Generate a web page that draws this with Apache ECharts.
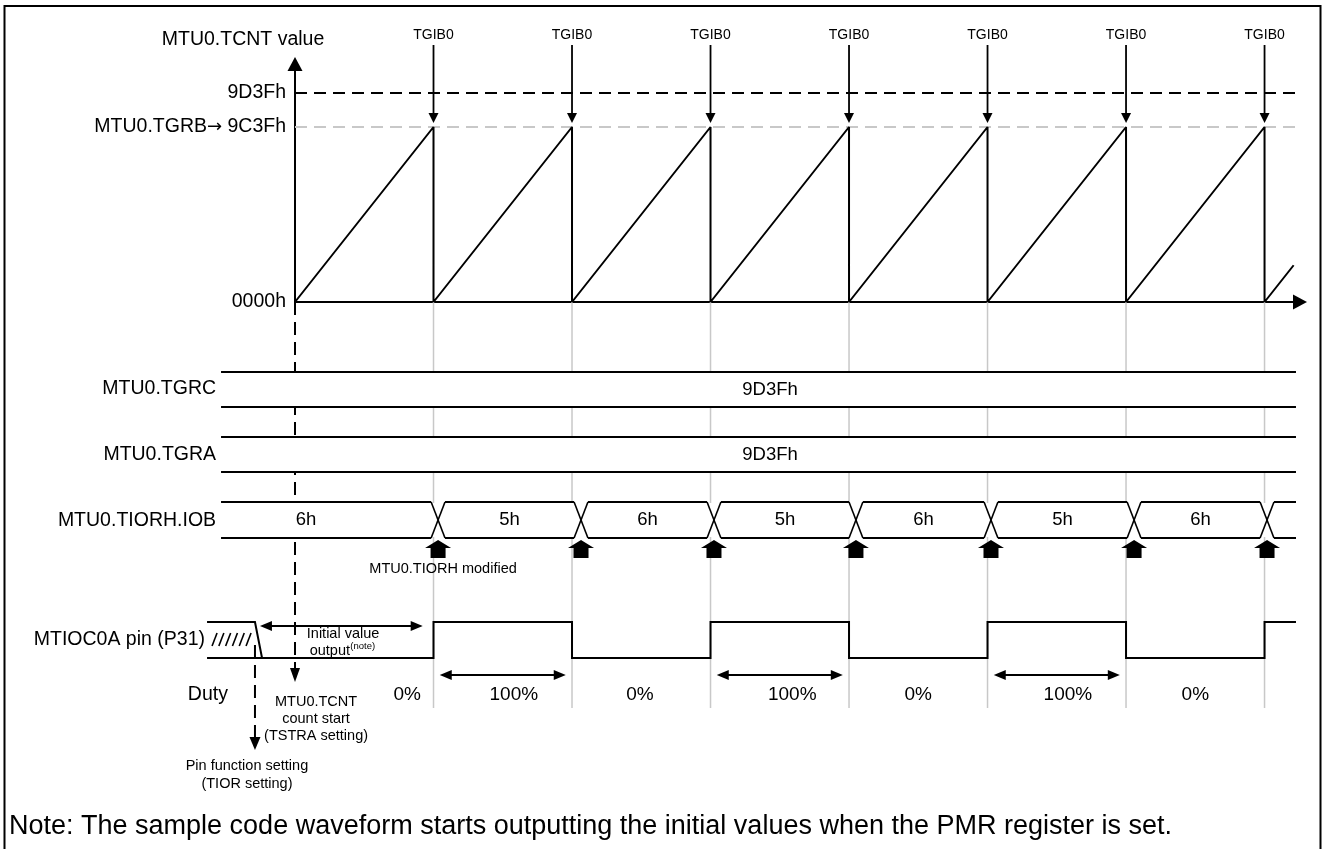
<!DOCTYPE html>
<html><head><meta charset="utf-8">
<script src="https://cdn.jsdelivr.net/npm/echarts@6/dist/echarts.min.js"></script>
<style>html,body{margin:0;padding:0;background:#fff}#c{width:1326px;height:849px}</style>
</head><body><div id="c"></div>
<script>
// ---------------- data ----------------
// time unit = one TCNT counting period (TCNT 0000h -> TGRB)
const compareMatchTimes = [1, 2, 3, 4, 5, 6, 7];             // TGIB0 events
const tcntRamp = [[0,0],[1,1],[1,0],[2,1],[2,0],[3,1],[3,0],[4,1],[4,0],
                  [5,1],[5,0],[6,1],[6,0],[7,1],[7,0],[7.21,0.21]]; // TCNT, as fraction of TGRB
const levelValues = [0, 1, 1.194];                              // schematic levels of the y axis
const levelLabels = ['0000h', 'MTU0.TGRB{a|\u2192} 9C3Fh', '9D3Fh'];
const rowNames = ['MTU0.TGRC', 'MTU0.TGRA', 'MTU0.TIORH.IOB', 'MTIOC0A pin (P31)', 'Duty'];
const registerValues = ['9D3Fh', '9D3Fh'];                      // TGRC, TGRA
const iobValues = ['6h', '5h', '6h', '5h', '6h', '5h', '6h'];
const iobSwitchTimes = [1.033, 2.065, 3.025, 4.05, 5.025, 6.058, 7.018];
const pinLevels = [0, 1, 0, 1, 0, 1, 0, 1];                     // per period starting at 0,1,...,7
const dutyLabels = ['0%', '100%', '0%', '100%', '0%', '100%', '0%'];
const dutyLabelTimes = [0.81, 1.58, 2.49, 3.59, 4.5, 5.58, 6.5];
const eventLabel = 'TGIB0';
const noteText = 'Note: The sample code waveform starts outputting the initial values when the PMR register is set.';

// ---------------- layout ----------------
const FONT = '"Liberation Sans", Arial, Helvetica, sans-serif';
const X_MAX = 7.256;
const ROW_START = -0.534, ROW_END = 7.227, PIN_START = -0.635, RAMP_LINE_END = 7.242;
const L = { tgrc:[70,105], tgra:[135,170], iob:[200,236], arrowTop:238, modified:267,
            pinHigh:320, pinLow:356, initArrow:324, dutyArrow:373, dutyText:393, guideEnd:406 };
const GREY = '#c8c8c8';

function ln(a, b, o) { return {type:'line', shape:{x1:a[0],y1:a[1],x2:b[0],y2:b[1]},
  style:Object.assign({stroke:'#000', lineWidth:2, fill:'none'}, o||{})}; }
function pl(pts, o) { return {type:'polyline', shape:{points:pts},
  style:Object.assign({stroke:'#000', lineWidth:2, fill:'none'}, o||{})}; }
function pg(pts, fill) { return {type:'polygon', shape:{points:pts}, style:{fill:fill||'#000', stroke:'none'}}; }
function tx(p, s, size, align, o) { return {type:'text', style:Object.assign({text:s, x:p[0], y:p[1],
  align:align||'center', verticalAlign:'middle', fontSize:size, fontFamily:FONT, fill:'#000'}, o||{})}; }
function hArrowHeads(p1, p2) { // horizontal double arrow
  return [ln([p1[0]+6,p1[1]],[p2[0]-6,p2[1]],{lineWidth:1.8}),
    pg([[p1[0],p1[1]],[p1[0]+12,p1[1]-5],[p1[0]+12,p1[1]+5]]),
    pg([[p2[0],p2[1]],[p2[0]-12,p2[1]-5],[p2[0]-12,p2[1]+5]])];
}
function downArrow(p, w, h) { return pg([[p[0],p[1]],[p[0]-w/2,p[1]-h],[p[0]+w/2,p[1]-h]]); }

const chart = echarts.init(document.getElementById('c'));

const option = {
  animation: false,
  title: { text: noteText, left: 9, top: 813, padding: 0,
    textStyle: { fontSize: 27, fontWeight: 'normal', color: '#000', fontFamily: FONT } },
  graphic: [{ type:'rect', silent:true, shape:{x:4.5, y:6, width:1316, height:900},
    style:{fill:'none', stroke:'#000', lineWidth:2} }],
  grid: [
    { left: 295, right: 26, top: 64, height: 238 },
    { left: 295, right: 26, top: 302, height: 547 }
  ],
  xAxis: [
    { gridIndex:0, type:'value', min:0, max:X_MAX,
      axisLine:{show:true, symbol:['none','triangle'], symbolSize:[15,14], lineStyle:{color:'#000', width:2}},
      axisTick:{show:false}, axisLabel:{show:false}, splitLine:{show:false} },
    { gridIndex:1, type:'value', min:0, max:X_MAX, show:false }
  ],
  yAxis: [
    { gridIndex:0, type:'value', min:0, max:1.36,
      axisLine:{show:true, symbol:['none','triangle'], symbolSize:[15,14], lineStyle:{color:'#000', width:2}},
      axisTick:{show:false}, splitLine:{show:false},
      axisLabel:{ customValues: levelValues, margin: 9, color:'#000', fontSize: 19.5, fontFamily: FONT,
        rich: { a: { fontFamily: '"DejaVu Sans", sans-serif', fontSize: 18, color:'#000' } },
        formatter: v => { let bi = 0; levelValues.forEach((lv,i) => { if (Math.abs(lv-v) < Math.abs(levelValues[bi]-v)) bi = i; }); return levelLabels[bi]; } },
      name: 'MTU0.TCNT value', nameLocation: 'end', nameGap: 14,
      nameTextStyle: { color:'#000', fontSize: 19.5, fontFamily: FONT, align:'center', padding:[0,104,0,0] } },
    { gridIndex:1, type:'value', min:0, max:547, inverse:true, show:false }
  ],
  series: [
    // reference levels
    { type:'line', xAxisIndex:0, yAxisIndex:0, z:2, symbol:'none', silent:true,
      data:[[0, levelValues[1]], [RAMP_LINE_END, levelValues[1]]],
      lineStyle:{color:GREY, width:2, type:[12,7]} },
    { type:'line', xAxisIndex:0, yAxisIndex:0, z:2, symbol:'none', silent:true,
      data:[[0, levelValues[2]], [RAMP_LINE_END, levelValues[2]]],
      lineStyle:{color:'#000', width:2, type:[12,7]} },
    // TCNT sawtooth
    { type:'line', xAxisIndex:0, yAxisIndex:0, z:5, symbol:'none', silent:true,
      data: tcntRamp, lineStyle:{color:'#000', width:2} },
    // TGIB0 interrupt arrows
    { type:'custom', xAxisIndex:0, yAxisIndex:0, z:6, clip:false, silent:true,
      data: compareMatchTimes.map(t => [t, levelValues[1]]),
      renderItem: (params, api) => {
        const p = api.coord([api.value(0), api.value(1)]);
        return {type:'group', children:[
          ln([p[0], p[1]-82], [p[0], p[1]-14], {lineWidth:1.8}),
          pg([[p[0]-5, p[1]-14], [p[0]+5, p[1]-14], [p[0], p[1]-4]]),
          tx([p[0], p[1]-92], eventLabel, 14)
        ]};
      } },
    // grey guide lines (lower part)
    { type:'custom', xAxisIndex:1, yAxisIndex:1, z:1, clip:false, silent:true,
      data: compareMatchTimes.map(t => [t]),
      renderItem: (params, api) => {
        const t = api.value(0);
        return ln(api.coord([t, 0]), api.coord([t, L.guideEnd]), {stroke:GREY, lineWidth:1.5});
      } },
    // dashed setting markers
    { type:'custom', xAxisIndex:1, yAxisIndex:1, z:2, clip:false, silent:true, data:[[0]],
      renderItem: (params, api) => {
        const c = (t, y) => api.coord([t, y]);
        const a = c(0, 380), b = c(-0.289, 448);
        return {type:'group', children:[
          ln(c(0, 0), c(0, 366), {lineDash:[13,7]}),
          downArrow(a, 10, 14),
          ln(c(-0.289, 343), c(-0.289, 436), {lineDash:[13,7]}),
          downArrow(b, 11, 13)
        ]};
      } },
    // white box fills
    { type:'custom', xAxisIndex:1, yAxisIndex:1, z:3, clip:false, silent:true, data:[[0]],
      renderItem: (params, api) => {
        const c = (t, y) => api.coord([t, y]);
        const kids = [L.tgrc, L.tgra, L.iob].map(r => {
          const p1 = c(ROW_START, r[0]), p2 = c(ROW_END, r[1]);
          return {type:'rect', shape:{x:p1[0], y:p1[1]+1, width:p2[0]-p1[0], height:p2[1]-p1[1]-2}, style:{fill:'#fff'}};
        });
        return {type:'group', children:kids};
      } },
    // register rows and labels
    { type:'custom', xAxisIndex:1, yAxisIndex:1, z:4, clip:false, silent:true, data:[[0]],
      renderItem: (params, api) => {
        const c = (t, y) => api.coord([t, y]);
        const kids = [];
        [L.tgrc, L.tgra].forEach((r, i) => {
          kids.push(ln(c(ROW_START, r[0]), c(ROW_END, r[0])));
          kids.push(ln(c(ROW_START, r[1]), c(ROW_END, r[1])));
          kids.push(tx(c(3.43, (r[0]+r[1])/2), registerValues[i], 18.5));
        });
        // TIORH.IOB bus
        const h = 0.05, top = L.iob[0], bot = L.iob[1];
        const edges = [ROW_START].concat(iobSwitchTimes, [ROW_END]);
        for (let i = 0; i < edges.length-1; i++) {
          const a = edges[i] + (i > 0 ? h : 0);
          const b = edges[i+1] - (i+1 < edges.length-1 ? h : 0);
          kids.push(ln(c(a, top), c(b, top)));
          kids.push(ln(c(a, bot), c(b, bot)));
        }
        iobSwitchTimes.forEach(s => {
          kids.push(ln(c(s-h, top), c(s+h, bot), {lineWidth:1.6}));
          kids.push(ln(c(s-h, bot), c(s+h, top), {lineWidth:1.6}));
          const p = c(s, L.arrowTop);
          kids.push(pg([[p[0], p[1]], [p[0]+13, p[1]+8], [p[0]+7.5, p[1]+8], [p[0]+7.5, p[1]+18],
                        [p[0]-7.5, p[1]+18], [p[0]-7.5, p[1]+8], [p[0]-13, p[1]+8]]));
        });
        iobValues.forEach((v, i) => {
          const t = i === 0 ? 0.079 : (iobSwitchTimes[i-1] + iobSwitchTimes[i]) / 2;
          kids.push(tx(c(t, (top+bot)/2), v, 18.5));
        });
        kids.push(tx(c(1.069, L.modified), 'MTU0.TIORH modified', 14.5));
        // row names
        kids.push(tx(c(-0.570, (L.tgrc[0]+L.tgrc[1])/2 - 1), rowNames[0], 19.5, 'right'));
        kids.push(tx(c(-0.570, (L.tgra[0]+L.tgra[1])/2), rowNames[1], 19.5, 'right'));
        kids.push(tx(c(-0.570, (L.iob[0]+L.iob[1])/2 + 1), rowNames[2], 19.5, 'right'));
        kids.push(tx(c(-0.650, (L.pinHigh+L.pinLow)/2), rowNames[3], 19.5, 'right'));
        kids.push(tx(c(-0.484, L.dutyText), rowNames[4], 19.5, 'right'));
        return {type:'group', children:kids};
      } },
    // MTIOC0A pin waveform and duty
    { type:'custom', xAxisIndex:1, yAxisIndex:1, z:5, clip:false, silent:true, data:[[0]],
      renderItem: (params, api) => {
        const c = (t, y) => api.coord([t, y]);
        const yPin = lv => lv ? L.pinHigh : L.pinLow;
        const kids = [];
        const pts = [c(PIN_START, yPin(pinLevels[0]))];
        for (let k = 1; k < pinLevels.length; k++) {
          const t = compareMatchTimes[k-1];
          if (pinLevels[k] !== pinLevels[k-1]) { pts.push(c(t, yPin(pinLevels[k-1]))); pts.push(c(t, yPin(pinLevels[k]))); }
        }
        pts.push(c(ROW_END, yPin(pinLevels[pinLevels.length-1])));
        kids.push(pl(pts));
        // undefined initial state
        kids.push(pl([c(PIN_START, L.pinHigh), c(-0.289, L.pinHigh), c(-0.238, L.pinLow)]));
        const s = c(PIN_START, 344);
        for (let k = 0; k < 6; k++) {
          const x = s[0] + 5 + 6.8*k;
          kids.push(ln([x, s[1]], [x+5, s[1]-13], {lineWidth:1.6}));
        }
        // initial value output arrow
        kids.push.apply(kids, hArrowHeads(c(-0.253, L.initArrow), c(0.922, L.initArrow)));
        kids.push(tx(c(0.347, 332), 'Initial value', 14.5));
        kids.push(tx(c(0.397, 349), 'output', 14.5, 'right'));
        kids.push(tx(c(0.399, 344), '(note)', 9.5, 'left'));
        // duty
        for (let k = 1; k < pinLevels.length - 1; k++) {
          if (pinLevels[k] === 1) {
            kids.push.apply(kids, hArrowHeads(c(compareMatchTimes[k-1] + 0.045, L.dutyArrow),
                                              c(compareMatchTimes[k] - 0.045, L.dutyArrow)));
          }
        }
        dutyLabels.forEach((d, i) => kids.push(tx(c(dutyLabelTimes[i], L.dutyText), d, 19)));
        // annotations
        kids.push(tx(c(0.152, 400), 'MTU0.TCNT', 14.5));
        kids.push(tx(c(0.152, 417), 'count start', 14.5));
        kids.push(tx(c(0.152, 434), '(TSTRA setting)', 14.5));
        kids.push(tx(c(-0.347, 464), 'Pin function setting', 14.5));
        kids.push(tx(c(-0.347, 482), '(TIOR setting)', 14.5));
        return {type:'group', children:kids};
      } }
  ]
};
chart.setOption(option);
</script></body></html>
